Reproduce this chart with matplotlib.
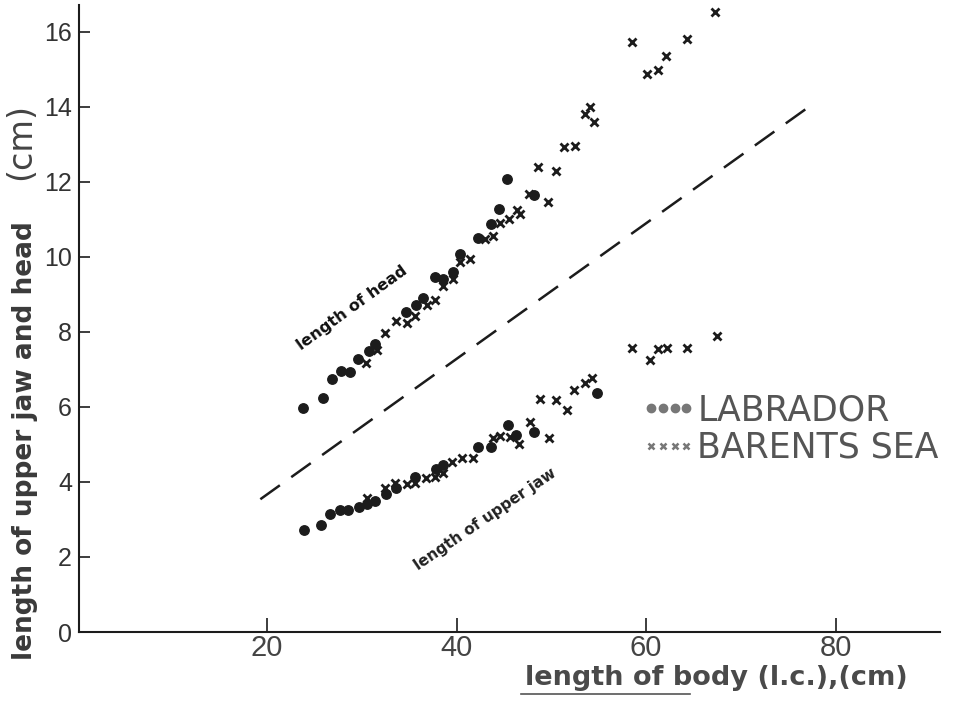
import matplotlib
matplotlib.use("Agg")
import matplotlib.pyplot as plt
from matplotlib.lines import Line2D

# ---------------- data ----------------
head_lab_x = [23.8, 25.9, 26.9, 27.8, 28.8, 29.6, 30.8, 31.4, 34.7, 35.7, 36.5, 37.7,
              38.6, 39.6, 40.4, 42.3, 43.6, 44.5, 45.3, 48.2]
head_lab_y = [5.98, 6.25, 6.74, 6.96, 6.94, 7.29, 7.49, 7.69, 8.54, 8.71, 8.90, 9.47,
              9.41, 9.60, 10.09, 10.50, 10.88, 11.27, 12.09, 11.66]

head_bar_x = [30.4, 31.6, 32.4, 33.6, 34.8, 35.6, 36.9, 37.7, 38.6, 39.6, 40.4, 41.4,
              43.0, 43.8, 44.6, 45.5, 46.4, 46.7, 47.6, 49.6, 48.6, 50.5, 51.3, 52.5,
              53.6, 54.1, 54.5, 58.5, 60.1, 61.2, 62.1, 64.3, 67.3]
head_bar_y = [7.16, 7.51, 7.98, 8.28, 8.25, 8.43, 8.72, 8.85, 9.23, 9.41, 9.87, 9.94,
              10.49, 10.56, 10.90, 11.02, 11.25, 11.14, 11.67, 11.47, 12.41, 12.29, 12.92, 12.96,
              13.81, 14.00, 13.61, 15.72, 14.88, 14.99, 15.37, 15.82, 16.53]

jaw_lab_x = [23.9, 25.7, 26.6, 27.7, 28.6, 29.7, 30.6, 31.4, 32.6, 33.6, 35.6, 37.8,
             38.6, 42.3, 43.6, 45.4, 46.3, 48.2, 54.8]
jaw_lab_y = [2.72, 2.85, 3.14, 3.25, 3.25, 3.33, 3.41, 3.49, 3.67, 3.85, 4.14, 4.34,
             4.45, 4.94, 4.94, 5.51, 5.25, 5.33, 6.36]

jaw_bar_x = [30.5, 32.4, 33.5, 34.8, 35.6, 36.8, 37.7, 38.6, 39.5, 40.6, 41.7, 43.8,
             44.6, 45.6, 46.6, 47.7, 49.7, 48.8, 50.5, 51.6, 52.4, 53.6, 54.3, 58.5,
             60.4, 61.3, 62.2, 64.3, 67.5]
jaw_bar_y = [3.58, 3.85, 3.98, 3.94, 3.98, 4.10, 4.12, 4.25, 4.54, 4.65, 4.65, 5.18,
             5.23, 5.21, 5.02, 5.61, 5.17, 6.22, 6.18, 5.92, 6.45, 6.63, 6.76, 7.58,
             7.25, 7.54, 7.58, 7.56, 7.89]

ref_line_x = [19.3, 77.1]
ref_line_y = [3.54, 13.99]

x_ticks = [20, 40, 60, 80]
y_ticks = [0, 2, 4, 6, 8, 10, 12, 14, 16]

legend_labels = ["LABRADOR", "BARENTS SEA"]
x_label = "length of body (l.c.),(cm)"
y_label_main = "length of upper jaw and head"
y_label_unit = "(cm)"
note_head = "length of head"
note_jaw = "length of upper jaw"

# ---------------- figure ----------------
W, H = 959, 704
fig = plt.figure(figsize=(W / 100, H / 100), dpi=100)
ax = fig.add_axes([79 / W, 72 / H, 861 / W, 626.7 / H])

ink = "#1c1c1c"
ax.plot(ref_line_x, ref_line_y, color=ink, lw=1.8, dashes=(9.6, 5.6), solid_capstyle="butt")

ax.plot(head_lab_x, head_lab_y, ls="none", marker="o", ms=6.8, color=ink, mec=ink)
ax.plot(jaw_lab_x, jaw_lab_y, ls="none", marker="o", ms=6.8, color=ink, mec=ink)
ax.plot(head_bar_x, head_bar_y, ls="none", marker="x", ms=5.5, mew=2.0, color=ink)
ax.plot(jaw_bar_x, jaw_bar_y, ls="none", marker="x", ms=5.5, mew=2.0, color=ink)

ax.set_xlim(0.17, 91.0)
ax.set_ylim(0, 16.71)

for s in ["top", "right"]:
    ax.spines[s].set_visible(False)
for s in ["left", "bottom"]:
    ax.spines[s].set_linewidth(1.5)
    ax.spines[s].set_color(ink)

ax.set_xticks(x_ticks)
ax.set_yticks(y_ticks)
ax.set_xticklabels([str(v) for v in x_ticks])
ax.set_yticklabels([str(v) for v in y_ticks])
ax.tick_params(axis="x", direction="in", length=10, width=1.2, color=ink, pad=1.5)
ax.tick_params(axis="y", direction="in", length=8, width=1.2, color=ink, pad=5)
for lab in ax.get_xticklabels():
    lab.set_family(["Liberation Sans Narrow", "Liberation Sans"])
    lab.set_fontsize(21)
    lab.set_color("#444444")
for lab in ax.get_yticklabels():
    lab.set_family(["Liberation Sans", "DejaVu Sans"])
    lab.set_fontsize(18)
    lab.set_color("#333333")

# axis labels
fig.text(25 / W, 1 - 660 / H, y_label_main, rotation=90, ha="center", va="bottom",
         fontsize=19, fontweight="bold", family="DejaVu Sans", color="#3a3a3a")
fig.text(21 / W, 1 - 142 / H, y_label_unit, rotation=90, ha="center", va="center",
         fontsize=24, family="DejaVu Sans", color="#444444")
fig.text(716 / W, 1 - 678 / H, x_label, ha="center", va="center",
         fontsize=19.5, fontweight="bold", family="DejaVu Sans", color="#4a4a4a")
fig.add_artist(Line2D([521 / W, 690 / W], [1 - 694 / H, 1 - 694 / H],
                      transform=fig.transFigure, color="#555555", lw=1.2))

# curve annotations
fig.text(351.7 / W, 1 - 308.3 / H, note_head, rotation=36, ha="center", va="center",
         rotation_mode="anchor", fontsize=11.5, fontweight="bold", family="DejaVu Sans", color="#111111")
fig.text(485 / W, 1 - 519 / H, note_jaw, rotation=34.4, ha="center", va="center",
         rotation_mode="anchor", fontsize=11.0, fontweight="bold", family="DejaVu Sans", color="#222222")

# legend
handles = [
    Line2D([], [], ls="none", marker="o", ms=6.0, color="#777777", label=legend_labels[0]),
    Line2D([], [], ls="none", marker="x", ms=4.5, mew=1.8, color="#777777", label=legend_labels[1]),
]
leg = ax.legend(handles=handles, loc="center left", bbox_to_anchor=(641 / W, 1 - 429 / H),
                bbox_transform=fig.transFigure, frameon=False, numpoints=4,
                handlelength=1.6, handletextpad=0.02, labelspacing=0.1, borderpad=0,
                borderaxespad=0, prop={"family": "DejaVu Sans", "size": 25}, labelcolor="#555555")

fig.savefig("out.png", dpi=100)
